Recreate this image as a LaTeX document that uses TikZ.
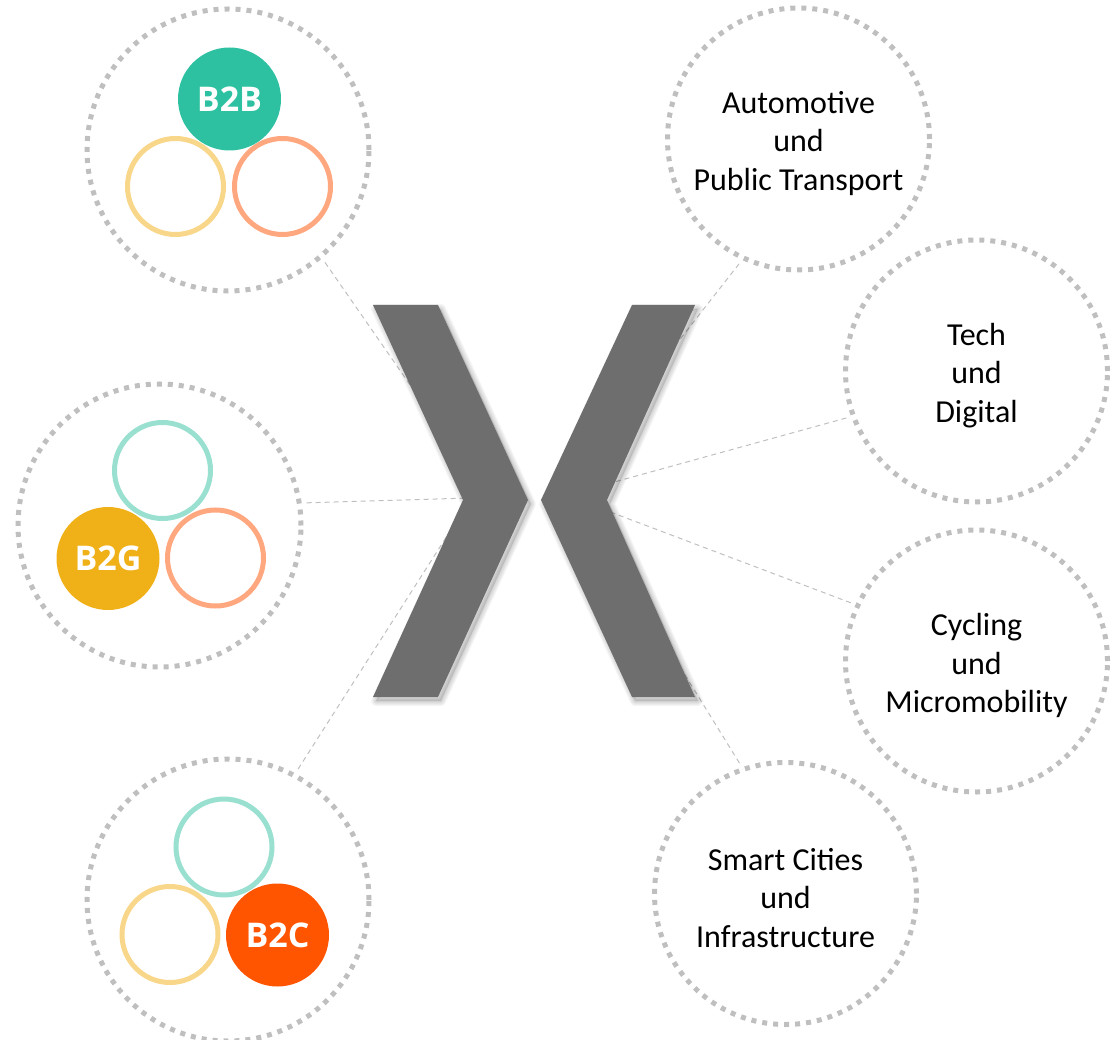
\documentclass[tikz,border=0pt]{standalone}
\usepackage{fontspec}
\newfontfamily\carlito{Carlito}
\newfontfamily\opensans{Open Sans}
\definecolor{dotgray}{HTML}{BFBFBF}
\definecolor{xgray}{HTML}{6E6E6E}
\definecolor{tealfill}{HTML}{2EC1A1}
\definecolor{tealring}{HTML}{99E0D0}
\definecolor{yellowring}{HTML}{F8D68A}
\definecolor{orangering}{HTML}{FFA880}
\definecolor{b2gfill}{HTML}{F0B018}
\definecolor{b2cfill}{HTML}{FF5500}
\newcommand\XShapePath{(373,305) -- (438,305) -- (528,500) -- (438,697) -- (373,697) -- (463,500) -- cycle
  (632,305) -- (695,305) -- (607,500) -- (695,697) -- (632,697) -- (541,500) -- cycle}
\tikzset{
  bigcircle/.style={circle, draw=dotgray, line width=5pt, dash pattern=on 5pt off 6pt, minimum size=#1, inner sep=0pt},
  topictext/.style={align=center, font=\carlito\fontsize{32}{38.5}\selectfont, text=black, yshift=-4.5pt},
  topiccircle/.style={bigcircle=262pt, label={[topictext]center:#1}},
  ring/.style={circle, draw=#1, line width=5pt, minimum size=96pt, inner sep=0pt},
  disc/.style={circle, fill=#1, minimum size=103pt, inner sep=0pt, text=white, font=\opensans\bfseries\fontsize{34}{38}\selectfont},
  conn/.style={draw=dotgray, line width=1pt, dash pattern=on 5pt off 4pt, shorten <=5pt}
}
\begin{document}
\begin{tikzpicture}[x=1pt,y=-1pt]
\useasboundingbox (0,0) rectangle (1119,1040);
% left group circles
\node[bigcircle=282pt] (gb2b) at (228,150) {};
\node[bigcircle=283pt] (gb2g) at (159.5,525.5) {};
\node[bigcircle=282pt] (gb2c) at (228,900) {};
% right topic circles
\node[topiccircle={Automotive\\und\\Public Transport}] (auto) at (798.5,139) {};
\node[topiccircle={Tech\\und\\Digital}] (tech) at (976.5,371) {};
\node[topiccircle={Cycling\\und\\Micromobility}] (cycl) at (976.5,661) {};
\node[topiccircle={Smart Cities\\und\\Infrastructure}] (smart) at (785.5,893.5) {};
% inner circles B2B
\node[ring=yellowring] (b2by) at (175.5,186.5) {};
\node[ring=orangering] (b2bo) at (282.5,186.5) {};
\node[disc=tealfill] (b2b) at (229.5,99) {B2B};
% inner circles B2G
\node[ring=tealring] (b2gt) at (162.5,470.5) {};
\node[ring=orangering] (b2go) at (215.5,558) {};
\node[disc=b2gfill] (b2g) at (108,558.5) {B2G};
% inner circles B2C
\node[ring=tealring] (b2ct) at (224,847) {};
\node[ring=yellowring] (b2cy) at (170,934.5) {};
\node[disc=b2cfill] (b2c) at (277.5,935) {B2C};
% end points behind the X
\coordinate (endB2B) at (490,500);
\coordinate (endB2G) at (470,498);
\coordinate (endB2C) at (470,500);
\coordinate (endAuto) at (554,500);
\coordinate (endTech) at (560,497);
\coordinate (endCycl) at (560,493);
\coordinate (endSmart) at (577,500);
% connectors
\draw[conn] (gb2b.-49) -- (endB2B);
\draw[conn] (gb2g.9) -- (endB2G);
\draw[conn] (gb2c.62) -- (endB2C);
\draw[conn] (auto.-115) -- (endAuto);
\draw[conn] (tech.200) -- (endTech);
\draw[conn] (cycl.155) -- (endCycl);
\draw[conn] (smart.109) -- (endSmart);
% X shadow
\begin{scope}[shift={(3,4)}]
  \foreach \w in {10,8,6,4,2} {
    \path[draw=black, draw opacity=0.035, line width=\w pt, line join=round] \XShapePath;
  }
  \path[fill=black, fill opacity=0.12] \XShapePath;
\end{scope}
% X
\path[fill=xgray] \XShapePath;
\end{tikzpicture}
\end{document}
